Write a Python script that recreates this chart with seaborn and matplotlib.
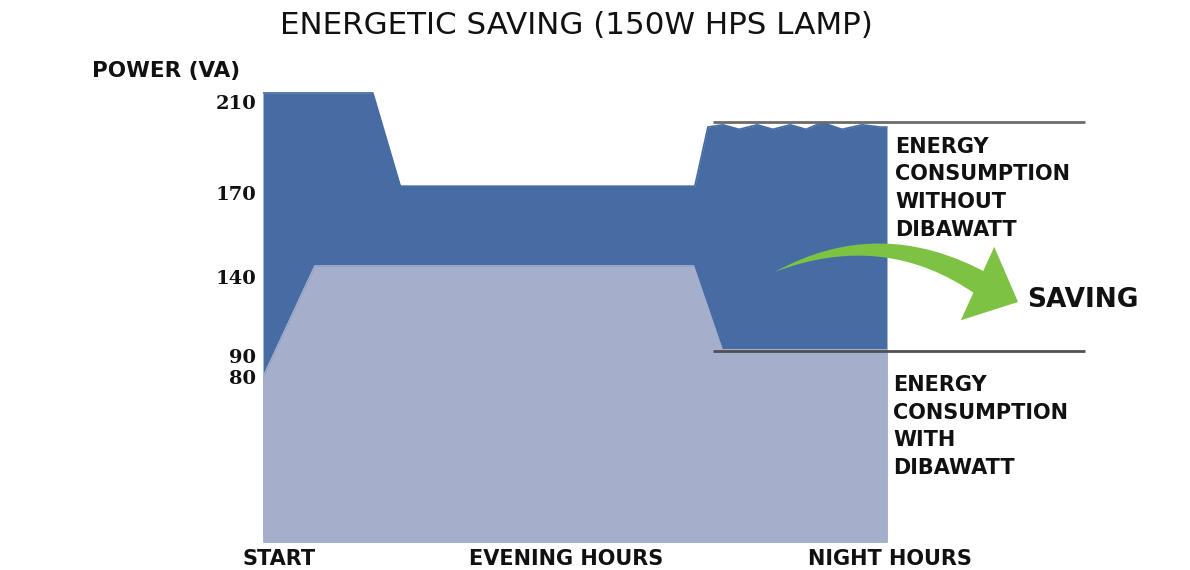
import numpy as np
import matplotlib
matplotlib.use("Agg")
import matplotlib.pyplot as plt
import seaborn as sns

# ---------------- data ----------------
# time axis (arbitrary units, 0 = start of the lamp, 100 = end of night)
x_without = [0, 17.6, 22.0, 69.2, 71.3, 73.7, 76.3, 79.2, 81.7, 84.5, 87.0, 89.6, 92.8, 96.0, 98.9, 100]
power_without = [214, 214, 173, 173, 199, 200, 198, 200, 198, 200, 198, 201, 198, 200, 199, 199]
x_with = [0, 8.3, 69.0, 73.6, 100]
power_with = [80, 144, 144, 94, 94]
ref_line_x = [72.1, 131.7]
ref_upper = 201
ref_lower = 93
ytick_values = [80, 90, 140, 170, 210]
xtick_pos = [2.6, 48.6, 100.5]
xtick_labels = ["START", "EVENING HOURS", "NIGHT HOURS"]
label_without = ["ENERGY", "CONSUMPTION", "WITHOUT", "DIBAWATT"]
label_with = ["ENERGY", "CONSUMPTION", "WITH", "DIBAWATT"]

# non-uniform vertical scale of the original graphic
_knot_vals = np.array([0, 80, 90, 140, 170, 210, 260], dtype=float)
_knot_h = np.array([0, 165, 186, 265, 349, 440, 553.75], dtype=float)


def fwd(v):
    return np.interp(v, _knot_vals, _knot_h)


def inv(h):
    return np.interp(h, _knot_h, _knot_vals)


sns.set_theme(style="white")
plt.rcParams["font.family"] = ["DejaVu Sans"]

W, H = 1190, 570
fig = plt.figure(figsize=(W / 100, H / 100), dpi=100)
ax = fig.add_axes([263 / W, 28 / H, 923.5 / W, (542 - 67.9) / H])

dark = "#476ca3"
light = "#a5afcb"
green = "#7dc242"

ax.fill_between(x_without, 0, power_without, color=dark, lw=0)
sns.lineplot(x=x_without, y=power_without, color=dark, lw=1.2, ax=ax)
ax.fill_between(x_with, 0, power_with, color=light, lw=0)
sns.lineplot(x=x_with, y=power_with, color=light, lw=1.0, ax=ax)

ax.plot(ref_line_x, [ref_upper, ref_upper], color="#6b6b6b", lw=2, solid_capstyle="butt")
ax.plot(ref_line_x, [ref_lower, ref_lower], color="#505050", lw=2, solid_capstyle="butt")

ax.set_yscale("function", functions=(fwd, inv))
ax.set_xlim(0, 148)
ax.set_ylim(0, 225)
ax.set_yticks(ytick_values)
ax.set_yticklabels([str(v) for v in ytick_values], fontfamily="DejaVu Serif",
                   fontweight="bold", fontsize=14, color="#111111")
ax.set_xticks(xtick_pos)
ax.set_xticklabels(xtick_labels, fontweight="bold", fontsize=15, color="#111111")
ax.tick_params(axis="y", length=0, pad=5)
ax.tick_params(axis="x", length=0, pad=5)
ax.yaxis.set_minor_locator(matplotlib.ticker.NullLocator())
for s in ax.spines.values():
    s.set_visible(False)
ax.set_xlabel("")
ax.set_ylabel("")

# saving arrow: tapered curved shaft + triangular head
ax.annotate("", xy=(82.0, 141.8), xytext=(115.4, 135.2),
            arrowprops=dict(arrowstyle="wedge,tail_width=1.75,shrink_factor=0.55",
                            connectionstyle="arc3,rad=0.27", color=green,
                            mutation_scale=10, shrinkA=0, shrinkB=0, lw=0))
ax.annotate("", xy=(121.0, 124.2), xytext=(113.6, 137.5),
            arrowprops=dict(arrowstyle="-|>,head_length=3.2,head_width=2.9",
                            color=green, mutation_scale=10, shrinkA=0, shrinkB=0, lw=0.01))

# texts
fig.text(576 / W, 1 - 25 / H, "ENERGETIC SAVING (150W HPS LAMP)", ha="center",
         va="center", fontsize=22.3, color="#111111")
fig.text(92 / W, 1 - 71 / H, "POWER (VA)", ha="left", va="center", fontsize=15.5,
         fontweight="bold", color="#111111")
for i, line in enumerate(label_without):
    fig.text(895 / W, 1 - (147 + i * 27.5) / H, line, ha="left", va="center",
             fontsize=15, fontweight="bold", color="#111111")
for i, line in enumerate(label_with):
    fig.text(893 / W, 1 - (385 + i * 27.7) / H, line, ha="left", va="center",
             fontsize=15, fontweight="bold", color="#111111")
fig.text(1083 / W, 1 - 300 / H, "SAVING", ha="center", va="center", fontsize=19,
         fontweight="bold", color="#111111")

fig.savefig("out.png", dpi=100)
